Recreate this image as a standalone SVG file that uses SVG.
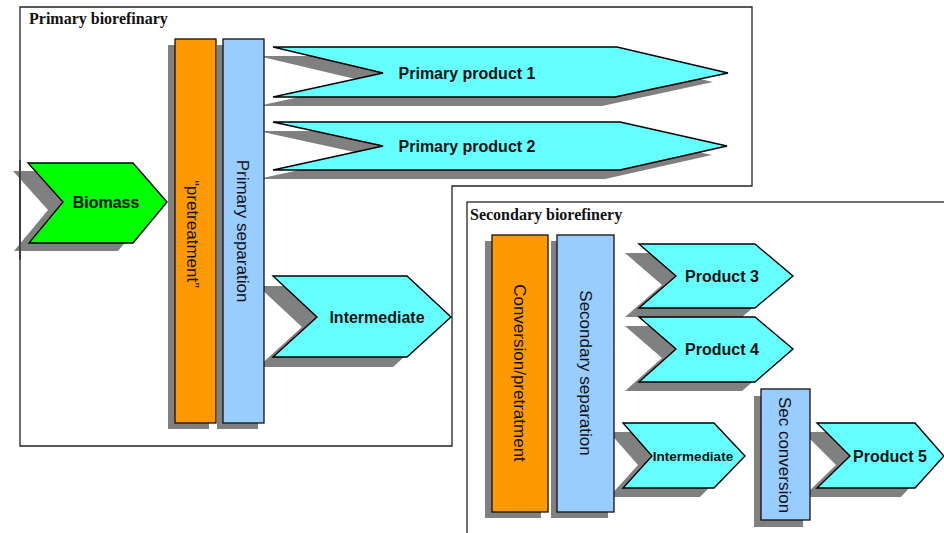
<svg xmlns="http://www.w3.org/2000/svg" width="944" height="533" viewBox="0 0 944 533">
<style>
.frame{fill:#fff;stroke:#222;stroke-width:1.3}
.title{font-family:"Liberation Serif","Times New Roman",serif;font-weight:bold;font-size:16px;fill:#111}
.shadow{fill:#808080;stroke:none}
.chev{stroke:#000;stroke-width:1.4;stroke-linejoin:miter}
.green{fill:#00ff00}
.cyan{fill:#66ffff}
.orange{fill:#ff9900;stroke:#111;stroke-width:1.3}
.blue{fill:#99ccff;stroke:#111;stroke-width:1.3}
.lbl{font-family:"Liberation Sans",Arial,sans-serif;font-weight:bold;font-size:16px;fill:#111;text-anchor:middle}
.vlbl{font-family:"Liberation Sans",Arial,sans-serif;font-size:17px;fill:#111;text-anchor:middle}
</style>
<rect width="944" height="533" fill="#fff"/>

<g id="primary-biorefinery">
<path class="frame" d="M20,7 H752 V186 H452 V446 H20 Z"/>
<text class="title" x="29" y="24">Primary biorefinary</text>
</g>

<g id="secondary-biorefinery">
<rect class="frame" x="467" y="202" width="490" height="340"/>
<text class="title" x="470" y="220">Secondary biorefinery</text>
</g>

<g id="connectors"></g>

<g id="biomass">
<polygon class="shadow" points="13,171 118,171 152,210 118,251 14,251 48,210"/>
<polygon class="chev green" points="28,163 133,163 167,202 133,243 29,243 63,202"/>
<text class="lbl" x="106" y="208">Biomass</text>
</g>
<line x1="20" y1="160" x2="20" y2="260" stroke="#222" stroke-width="1.3"/>

<g id="primary-product-1">
<polygon class="shadow" points="258,56 602,56 713,82 602,106 258,106 368,82"/>
<polygon class="chev cyan" points="273,47 617,47 728,73 615,97 273,97 383,73"/>
<text class="lbl" x="467" y="79">Primary product 1</text>
</g>

<g id="primary-product-2">
<polygon class="shadow" points="258,131 605,131 712,155 605,179 258,179 368,155"/>
<polygon class="chev cyan" points="273,122 620,122 727,146 620,170 273,170 383,146"/>
<text class="lbl" x="467" y="152">Primary product 2</text>
</g>

<g id="intermediate-1">
<polygon class="shadow" points="258,286 393,286 437,327 393,367 258,367 302,327"/>
<polygon class="chev cyan" points="273,276 407,276 451,317 407,357 273,357 317,317"/>
<text class="lbl" x="377" y="323">Intermediate</text>
</g>

<g id="pretreatment">
<rect class="shadow" x="168" y="45" width="41" height="384"/>
<rect class="orange" x="175" y="39" width="41" height="384"/>
<text class="vlbl" transform="translate(193,234) rotate(90)" dy="0.35em">“pretreatment”</text>
</g>

<g id="primary-separation">
<rect class="shadow" x="217" y="45" width="41" height="384"/>
<rect class="blue" x="223" y="39" width="41" height="384"/>
<text class="vlbl" transform="translate(243,231) rotate(90)" dy="0.35em">Primary separation</text>
</g>

<g id="product-3">
<polygon class="shadow" points="625,253 742,253 780,285 742,317 625,317 662,285"/>
<polygon class="chev cyan" points="639,244 755,244 793,276 755,308 639,308 676,276"/>
<text class="lbl" x="722" y="282">Product 3</text>
</g>

<g id="product-4">
<polygon class="shadow" points="625,326 742,326 780,358 742,391 625,391 662,358"/>
<polygon class="chev cyan" points="639,317 755,317 793,349 755,382 639,382 676,349"/>
<text class="lbl" x="722" y="355">Product 4</text>
</g>

<g id="intermediate-2">
<polygon class="shadow" points="609,432 700,432 731,465 700,497 609,497 638,465"/>
<polygon class="chev cyan" points="623,423 714,423 745,456 714,488 623,488 652,456"/>
<text class="lbl" x="693" y="461" style="font-size:13.5px">Intermediate</text>
</g>

<g id="product-5">
<polygon class="shadow" points="803,432 901,432 930,465 901,497 803,497 836,465"/>
<polygon class="chev cyan" points="817,423 915,423 944,456 915,488 817,488 850,456"/>
<text class="lbl" x="890" y="462">Product 5</text>
</g>

<g id="conversion-pretreatment">
<rect class="shadow" x="485" y="241" width="56" height="277"/>
<rect class="orange" x="492" y="235" width="56" height="277"/>
<text class="vlbl" transform="translate(520,373) rotate(90)" dy="0.35em">Conversion/pretratment</text>
</g>

<g id="secondary-separation">
<rect class="shadow" x="551" y="241" width="57" height="277"/>
<rect class="blue" x="557" y="235" width="57" height="277"/>
<text class="vlbl" transform="translate(586,373) rotate(90)" dy="0.35em">Secondary separation</text>
</g>

<g id="sec-conversion">
<rect class="shadow" x="754" y="396" width="49" height="131"/>
<rect class="blue" x="761" y="389" width="49" height="131"/>
<text class="vlbl" transform="translate(785,455) rotate(90)" dy="0.35em">Sec conversion</text>
</g>
</svg>
